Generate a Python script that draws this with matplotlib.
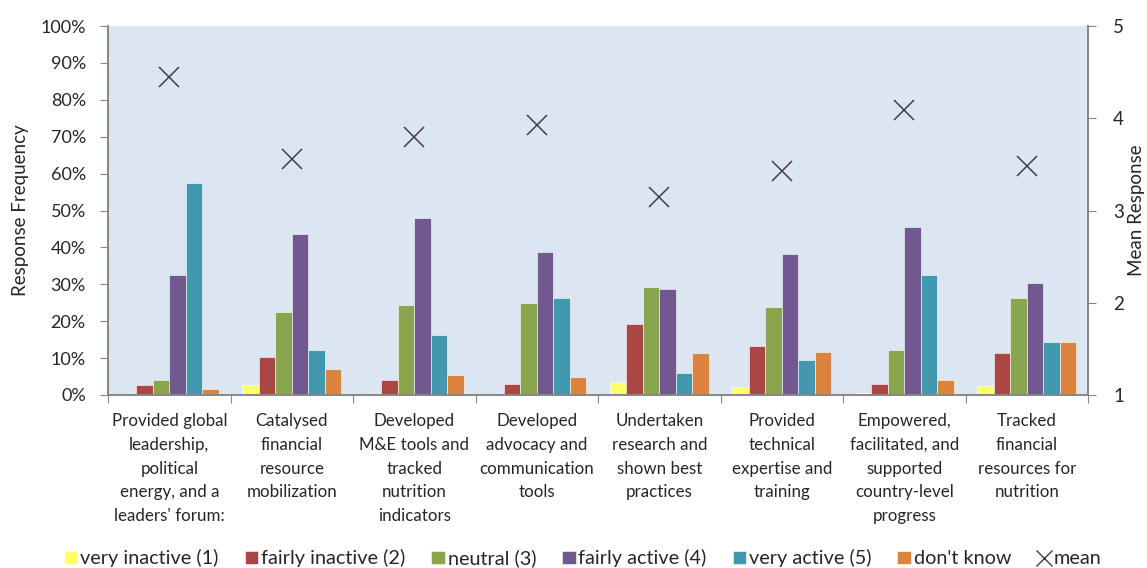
import numpy as np
import matplotlib.pyplot as plt
from matplotlib.lines import Line2D

plt.rcParams['font.family'] = ['Lato', 'DejaVu Sans']

# categories (x labels, already wrapped as in the chart)
categories = [
    "Provided global\nleadership,\npolitical\nenergy, and a\nleaders' forum:",
    "Catalysed\nfinancial\nresource\nmobilization",
    "Developed\nM&E tools and\ntracked\nnutrition\nindicators",
    "Developed\nadvocacy and\ncommunication\ntools",
    "Undertaken\nresearch and\nshown best\npractices",
    "Provided\ntechnical\nexpertise and\ntraining",
    "Empowered,\nfacilitated, and\nsupported\ncountry-level\nprogress",
    "Tracked\nfinancial\nresources for\nnutrition",
]

# response frequencies (%)
very_inactive = [0.0, 2.6, 0.0, 0.0, 3.5, 2.1, 0.6, 2.5]
fairly_inactive = [2.6, 10.3, 4.1, 3.1, 19.2, 13.2, 3.1, 11.3]
neutral = [4.1, 22.4, 24.4, 24.8, 29.3, 23.9, 12.3, 26.4]
fairly_active = [32.5, 43.6, 48.0, 38.8, 28.8, 38.2, 45.5, 30.3]
very_active = [57.5, 12.3, 16.2, 26.4, 6.0, 9.4, 32.5, 14.3]
dont_know = [1.6, 7.0, 5.5, 5.0, 11.3, 11.7, 4.1, 14.3]

# mean response (right axis)
mean = [4.45, 3.56, 3.80, 3.93, 3.15, 3.43, 4.09, 3.48]

series = [
    ("very inactive (1)", very_inactive, "#FFFF66"),
    ("fairly inactive (2)", fairly_inactive, "#AA4643"),
    ("neutral (3)", neutral, "#89A54E"),
    ("fairly active (4)", fairly_active, "#71588F"),
    ("very active (5)", very_active, "#4198AF"),
    ("don't know", dont_know, "#DB843D"),
]

text_col = "#262626"
spine_col = "#868686"

fig = plt.figure(figsize=(11.47, 5.68), dpi=100)
ax = fig.add_axes([0.0942, 0.3046, 0.8544, 0.6496])
ax.set_facecolor("#DCE6F2")

x = np.arange(len(categories))
w = 0.135
for i, (name, vals, col) in enumerate(series):
    ax.bar(x + (i - 2.5) * w, vals, width=w, color=col, edgecolor="white",
           linewidth=0.4, label=name, zorder=2)

ax.set_xlim(-0.5, len(categories) - 0.5)
ax.set_ylim(0, 100)
ax.set_yticks(np.arange(0, 101, 10))
ax.set_yticklabels([f"{v}%" for v in range(0, 101, 10)])
ax.set_ylabel("Response Frequency", fontsize=13.5, color=text_col, labelpad=8)

# group separators as ticks on x axis
ax.set_xticks(np.arange(-0.5, len(categories) + 0.5, 1))
ax.set_xticklabels([])
ax.tick_params(axis="x", length=6, color=spine_col, direction="out")
ax.set_xticks(x, minor=True)
ax.set_xticklabels(categories, minor=True, fontsize=12.2, color=text_col,
                   linespacing=1.6, va="top")
ax.tick_params(axis="x", which="minor", length=0, pad=13)
ax.tick_params(axis="y", length=6, color=spine_col, labelsize=13,
               labelcolor=text_col, pad=10)

ax2 = ax.twinx()
ax2.set_ylim(1, 5)
ax2.set_yticks([1, 2, 3, 4, 5])
ax2.tick_params(axis="y", length=6, color=spine_col, labelsize=13.5,
                labelcolor=text_col, pad=12)
ax2.plot(x, mean, linestyle="none", marker="x", markersize=15,
         markeredgewidth=1.1, color="#404040", zorder=3)
ax2.set_ylabel("Mean Response", fontsize=13.5, color=text_col,
               va="center", rotation=90)
ax2.yaxis.set_label_coords(1.049, 0.5)

for a in (ax, ax2):
    a.spines["top"].set_visible(False)
    for s in ("left", "right", "bottom"):
        a.spines[s].set_color(spine_col)
        a.spines[s].set_linewidth(1.2)

h1, l1 = ax.get_legend_handles_labels()
mean_handle = Line2D([], [], linestyle="none", marker="x", markersize=12,
                     markeredgewidth=1.0, color="#404040")
fig.legend(h1 + [mean_handle], l1 + ["mean"], loc="center",
           bbox_to_anchor=(0.508, 0.017), ncol=7, frameon=False, fontsize=14.3,
           handlelength=0.68, handleheight=0.6, handletextpad=0.15,
           columnspacing=1.3, labelcolor=text_col)

fig.savefig("out.png", dpi=100)
